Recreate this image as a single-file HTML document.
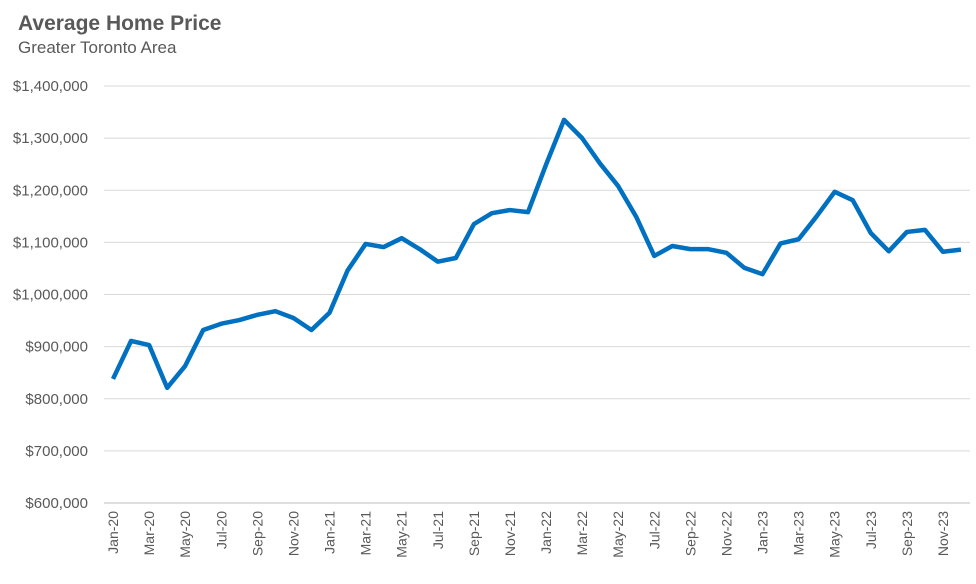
<!DOCTYPE html>
<html><head><meta charset="utf-8"><style>
body{margin:0;background:#fff;font-family:"Liberation Sans",sans-serif;}
svg text{font-family:"Liberation Sans",sans-serif;}
</style></head><body>
<svg id="chart" width="976" height="579">
<text x="18" y="30" font-size="21" font-weight="bold" fill="#595959">Average Home Price</text>
<text x="18" y="53" font-size="17" fill="#595959">Greater Toronto Area</text>
<g id="grid"></g><g id="yticks"></g><g id="xticks"></g><g id="series"></g>
</svg>
<script>
const months=["Jan","Feb","Mar","Apr","May","Jun","Jul","Aug","Sep","Oct","Nov","Dec"];
const years=["20","21","22","23"];
const prices=[838000,911000,903000,821000,863000,932000,944000,951000,961000,968000,955000,932000,
965000,1046000,1097000,1091000,1108000,1087000,1063000,1070000,1135000,1156000,1162000,1158000,
1249000,1335000,1300000,1251000,1208000,1149000,1074000,1093000,1087000,1087000,1080000,1051000,
1039000,1098000,1106000,1150000,1197000,1181000,1118000,1083000,1120000,1124000,1082000,1086000];
const yTicks=[600000,700000,800000,900000,1000000,1100000,1200000,1300000,1400000];
const categories=[];years.forEach(y=>months.forEach(m=>categories.push(m+"-"+y)));
const ns="http://www.w3.org/2000/svg";
const X0=104,X1=970,Y0=503,Y1=86,vmin=600000,vmax=1400000;
const bw=(X1-X0)/categories.length;
const xs=i=>X0+bw*(i+0.5);
const ys=v=>Y0-(v-vmin)/(vmax-vmin)*(Y0-Y1);
function mk(t,a,p){const e=document.createElementNS(ns,t);for(const k in a)e.setAttribute(k,a[k]);p.appendChild(e);return e;}
const grid=document.getElementById('grid'),yt=document.getElementById('yticks'),xt=document.getElementById('xticks'),se=document.getElementById('series');
yTicks.forEach(v=>{
 const l=mk('line',{x1:X0,x2:X1,y1:ys(v),y2:ys(v),stroke:v===vmin?'#bfbfbf':'#d9d9d9','stroke-width':1},grid);
 
 
 const t=mk('text',{x:88,y:ys(v)+5,'text-anchor':'end','font-size':15,fill:'#595959'},yt);
 t.textContent='$'+v.toLocaleString('en-US');
 
 
});
categories.forEach((c,i)=>{
 if(i%2)return;
 const x=xs(i);
 const t=mk('text',{x:0,y:0,'text-anchor':'end','font-size':14,fill:'#595959',transform:`translate(${x+5},${Y0+8}) rotate(-90)`},xt);
 t.textContent=c;
 
 
});
const pl=mk('polyline',{points:prices.map((v,i)=>xs(i)+','+ys(v)).join(' '),fill:'none',stroke:'#0070c0','stroke-width':4.5,'stroke-linejoin':'round'},se);


</script>
</body></html>
